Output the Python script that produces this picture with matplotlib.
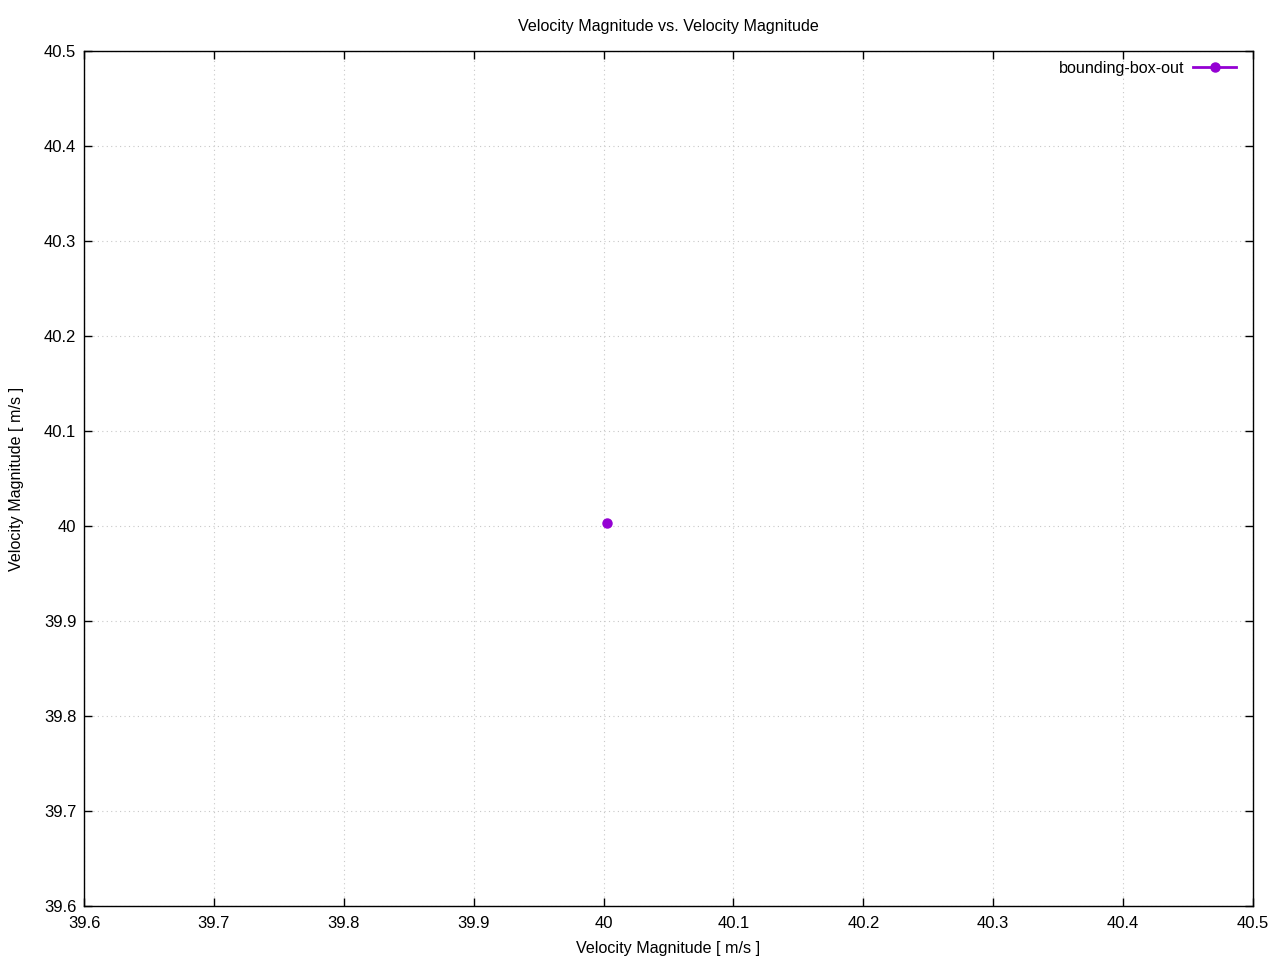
import matplotlib
matplotlib.use('Agg')
import matplotlib.pyplot as plt

# data
vel_x = [40.003]
vel_y = [40.003]
series_name = 'bounding-box-out'
ticks = [39.6, 39.7, 39.8, 39.9, 40.0, 40.1, 40.2, 40.3, 40.4, 40.5]
tick_labels = ['39.6', '39.7', '39.8', '39.9', '40', '40.1', '40.2', '40.3', '40.4', '40.5']

plt.rcParams['font.family'] = ['Liberation Sans', 'DejaVu Sans']
plt.rcParams['font.size'] = 11.6

fig = plt.figure(figsize=(12.8, 9.6), dpi=100)
ax = fig.add_axes([84 / 1280, 54 / 960, (1253 - 84) / 1280, (906 - 51) / 960])

ax.plot(vel_x, vel_y, color='#9400d3', marker='o', markersize=6.5, linewidth=2, label=series_name)

ax.set_xlim(39.6, 40.5)
ax.set_ylim(39.6, 40.5)
ax.set_xticks(ticks)
ax.set_xticklabels(tick_labels)
ax.set_yticks(ticks)
ax.set_yticklabels(tick_labels)

ax.tick_params(direction='in', length=6, width=1, top=True, right=True, labelsize=12)
ax.tick_params(axis='x', pad=7)
ax.tick_params(axis='y', pad=5.5)
ax.grid(True, color='#c8c8c8', linestyle=(0, (1, 3)), linewidth=0.8)
for s in ax.spines.values():
    s.set_linewidth(1)

ax.set_title('Velocity Magnitude vs. Velocity Magnitude', y=1 + 25 / 855, pad=0, va='center',
             fontsize=11.6)
ax.set_xlabel('Velocity Magnitude [ m/s ]')
ax.set_ylabel('Velocity Magnitude [ m/s ]')
ax.xaxis.set_label_coords(0.5, -42 / 855)
ax.xaxis.label.set_verticalalignment('center')
ax.yaxis.set_label_coords(-67 / 1169, 0.5)
ax.yaxis.label.set_verticalalignment('center')

ax.legend(loc='upper right', bbox_to_anchor=((1236 - 84) / 1169, (906 - 61) / 855),
          frameon=False, markerfirst=False, handlelength=2.65, handletextpad=0.55,
          borderaxespad=0, borderpad=0)

fig.savefig('out.png', dpi=100)
